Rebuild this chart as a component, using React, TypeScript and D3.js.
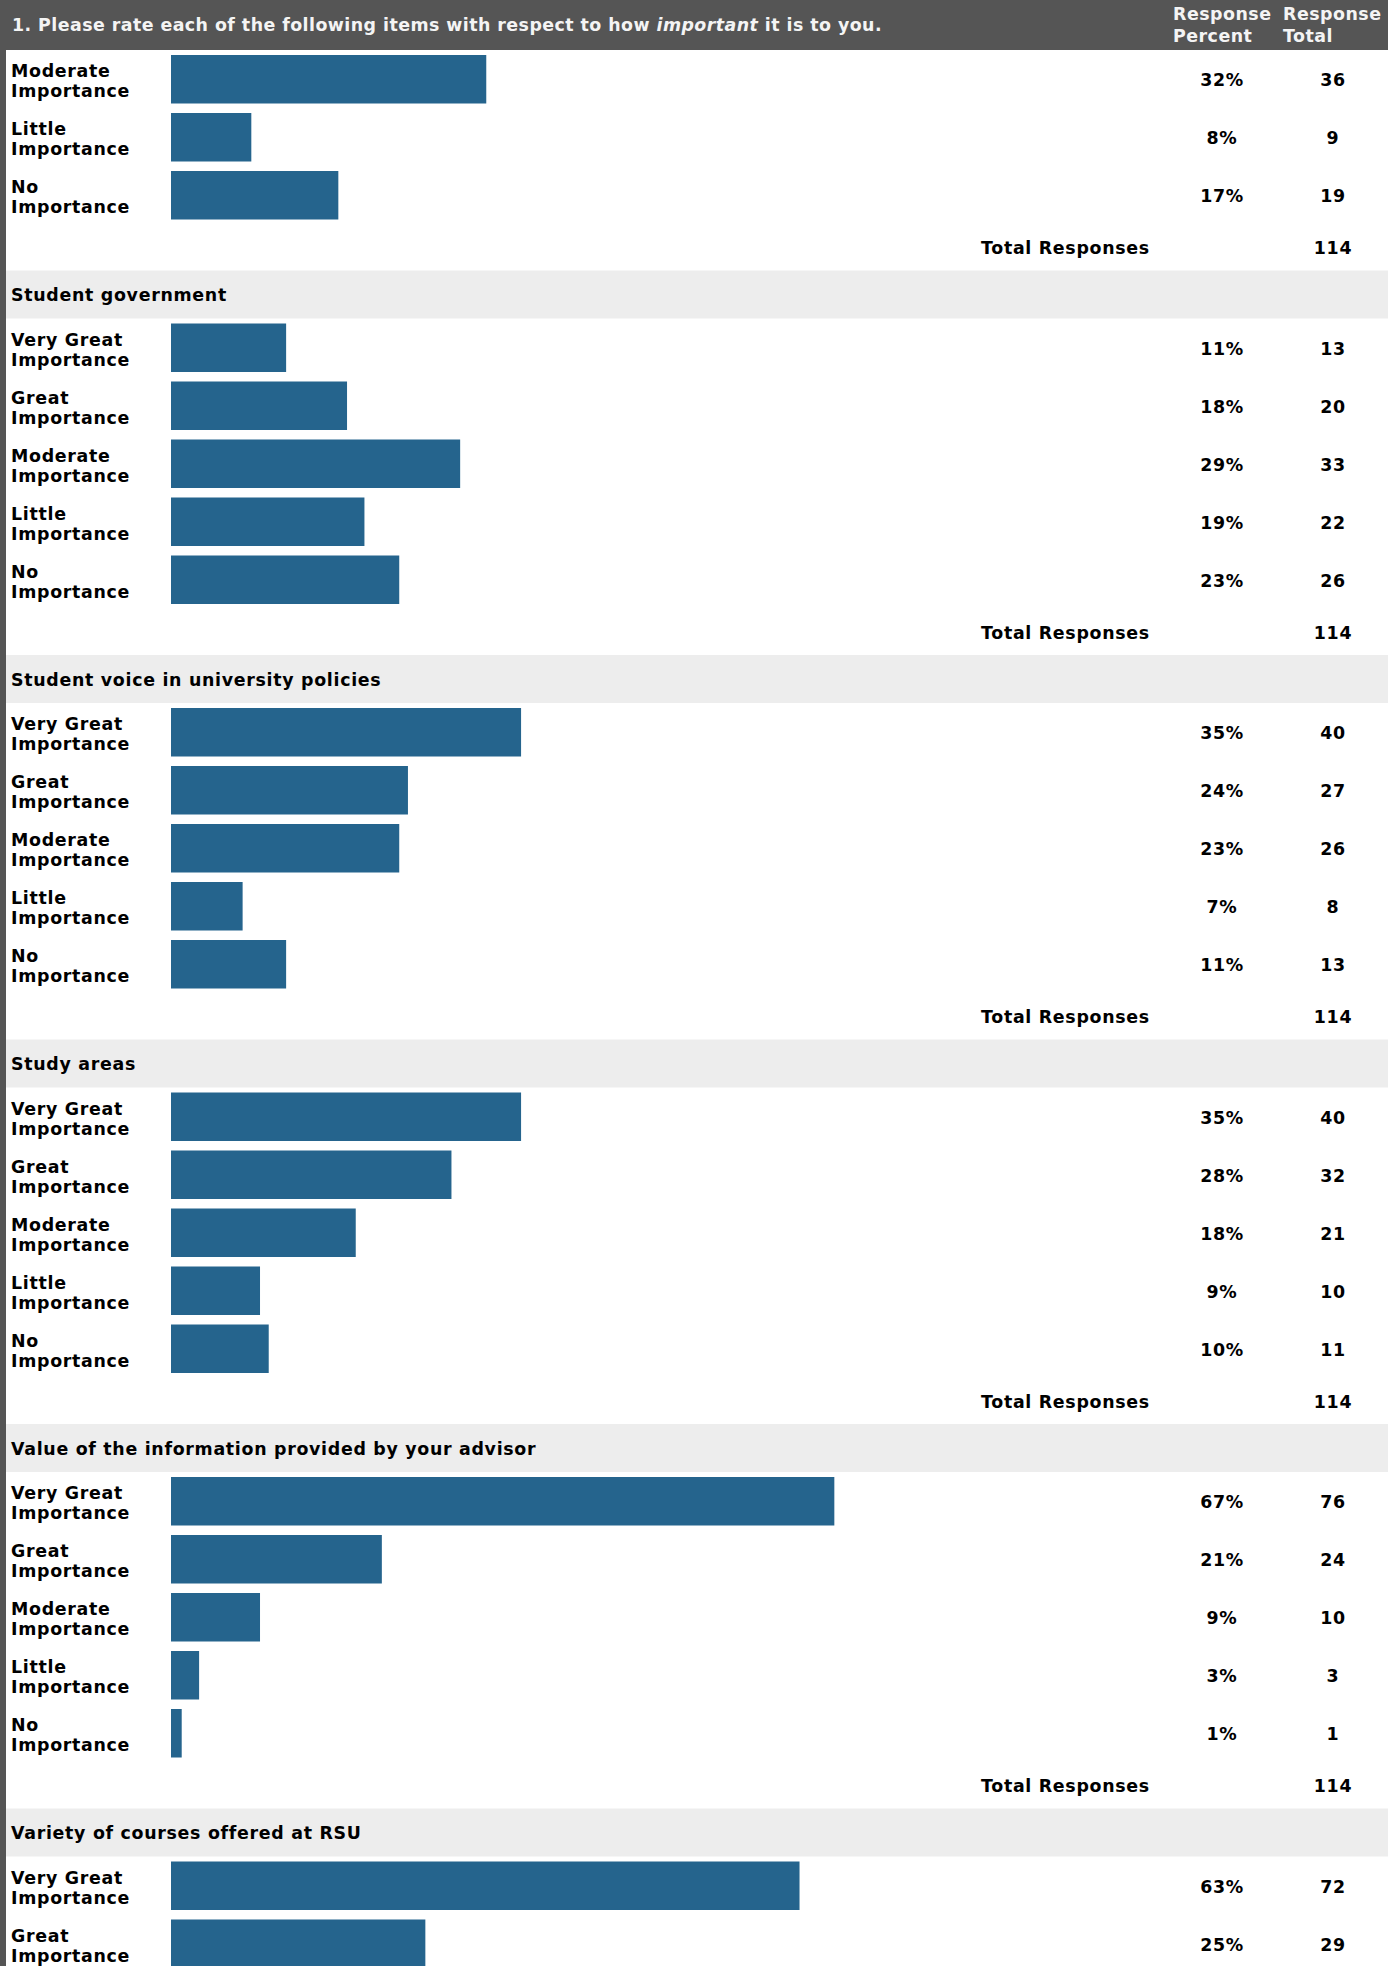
import React, { useRef, useEffect } from 'react';
import * as d3 from 'd3';

// survey data
const totalResponses = 114;
const rowLabels = ['Very Great Importance', 'Great Importance', 'Moderate Importance', 'Little Importance', 'No Importance'];

const sectionTitles = [
  '',
  'Student government',
  'Student voice in university policies',
  'Study areas',
  'Value of the information provided by your advisor',
  'Variety of courses offered at RSU'
];

// first section is cut off at the top, last one at the bottom
const sectionFirstRow = [2, 0, 0, 0, 0, 0];

const sectionCounts = [
  [36, 9, 19],
  [13, 20, 33, 22, 26],
  [40, 27, 26, 8, 13],
  [40, 32, 21, 10, 11],
  [76, 24, 10, 3, 1],
  [72, 29]
];

const sectionPercents = [
  ['32%', '8%', '17%'],
  ['11%', '18%', '29%', '19%', '23%'],
  ['35%', '24%', '23%', '7%', '11%'],
  ['35%', '28%', '18%', '9%', '10%'],
  ['67%', '21%', '9%', '3%', '1%'],
  ['63%', '25%']
];

const sectionHasTotal = [true, true, true, true, true, false];

const App: React.FC = () => {
  const svgRef = useRef<SVGSVGElement>(null);
  const width = 1388;
  const height = 1966;

  useEffect(() => {
    const svg = d3.select(svgRef.current);
    svg.selectAll('*').remove();

    const font = '"DejaVu Sans", Verdana, sans-serif';
    const barColor = '#25648d';
    const dark = '#555555';
    const headerH = 50;
    const bandH = 48;
    const rowH = 58;
    const totalH = 46.5;
    const barX = 171;
    const pctX = 1222;
    const totX = 1333;

    const xScale = d3.scaleLinear()
      .domain([0, totalResponses])
      .range([2, 994]);

    svg.append('rect')
      .attr('width', width)
      .attr('height', height)
      .attr('fill', '#ffffff');

    const txt = (parent: any, x: number, y: number, s: string, anchor = 'start', size = 17.4) =>
      parent.append('text')
        .attr('x', x)
        .attr('y', y)
        .attr('text-anchor', anchor)
        .style('font-family', font)
        .style('font-weight', 'bold')
        .style('font-size', `${size}px`)
        .style('letter-spacing', '0.7px')
        .style('fill', '#000')
        .text(s);

    let y = headerH;
    sectionTitles.forEach((title, si) => {
      if (si > 0) {
        svg.append('rect')
          .attr('x', 6)
          .attr('y', y)
          .attr('width', width - 6)
          .attr('height', bandH)
          .attr('fill', '#ededed');
        txt(svg, 11, y + 30.5, title);
        y += bandH;
      }
      sectionCounts[si].forEach((count, ri) => {
        const label = rowLabels[sectionFirstRow[si] + ri];
        const parts = label.split(' Importance');
        txt(svg, 11, y + 27, parts[0]);
        txt(svg, 11, y + 47, 'Importance');
        svg.append('rect')
          .attr('x', barX)
          .attr('y', y + 5)
          .attr('width', xScale(count))
          .attr('height', 48.5)
          .attr('fill', barColor);
        txt(svg, pctX, y + 36, sectionPercents[si][ri], 'middle');
        txt(svg, totX, y + 36, String(count), 'middle');
        y += rowH;
      });
      if (sectionHasTotal[si]) {
        txt(svg, 981, y + 30, 'Total Responses');
        txt(svg, totX, y + 30, String(totalResponses), 'middle');
        y += totalH;
      }
    });

    // header bar and left border
    svg.append('rect')
      .attr('width', width)
      .attr('height', headerH)
      .attr('fill', dark);
    svg.append('rect')
      .attr('width', 6)
      .attr('height', height)
      .attr('fill', dark);

    const title = svg.append('text')
      .attr('x', 12)
      .attr('y', 30.5)
      .style('font-family', font)
      .style('font-weight', 'bold')
      .style('font-size', '17.4px')
      .style('letter-spacing', '0.45px')
      .style('fill', '#f4f4f4');
    title.append('tspan').text('1. Please rate each of the following items with respect to how ');
    title.append('tspan').style('font-style', 'italic').text('important');
    title.append('tspan').text(' it is to you.');

    const hdr = (x: number, yy: number, s: string) =>
      svg.append('text')
        .attr('x', x)
        .attr('y', yy)
        .style('font-family', font)
        .style('font-weight', 'bold')
        .style('font-size', '17.4px')
        .style('letter-spacing', '0.5px')
        .style('fill', '#f4f4f4')
        .text(s);
    hdr(1173, 20, 'Response');
    hdr(1173, 42, 'Percent');
    hdr(1283, 20, 'Response');
    hdr(1283, 42, 'Total');
  }, []);

  return (
    <div style={{ position: 'absolute', left: 0, top: 0 }}>
      <svg ref={svgRef} width={width} height={height} style={{ display: 'block' }} />
    </div>
  );
};

export default App;
